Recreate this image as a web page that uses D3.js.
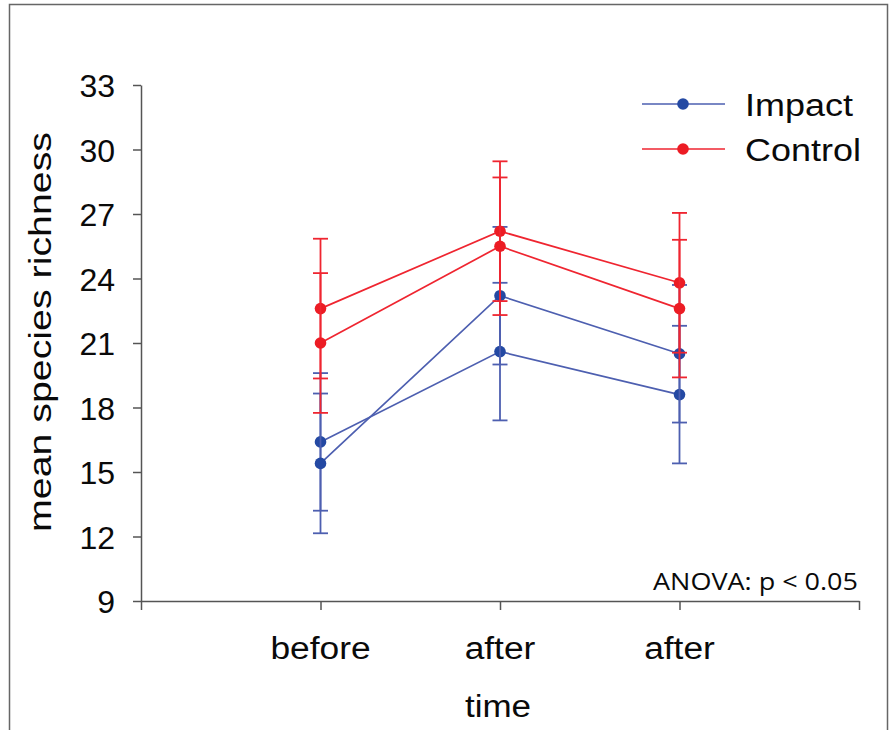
<!DOCTYPE html>
<html>
<head>
<meta charset="utf-8">
<script src="https://cdn.jsdelivr.net/npm/d3@7"></script>
<style>
  html, body { margin: 0; padding: 0; background: #fff; }
  svg { display: block; }
</style>
</head>
<body>
<svg id="chart" width="894" height="730"></svg>
<script>
// ---- data ----
const categories = ["before", "after", "after"];
const yTicks = [9, 12, 15, 18, 21, 24, 27, 30, 33];

const impactA = [16.4, 20.6, 18.6];
const impactAErr = [3.2, 3.2, 3.2];
const impactB = [15.4, 23.2, 20.5];
const impactBErr = [3.25, 3.2, 3.2];
const controlA = [22.6, 26.2, 23.8];
const controlAErr = [3.25, 3.25, 3.25];
const controlB = [21.0, 25.5, 22.6];
const controlBErr = [3.25, 3.2, 3.2];

const seriesNames = ["Impact", "Control"];

// ---- layout ----
const svg = d3.select("#chart");
const blueLine = "#4d5fb0", blueDot = "#2449a3";
const redLine = "#ef2530", redDot = "#ec1c24";
const font = "'Liberation Sans', Arial, sans-serif";
const ink = "#0a0a0a";

// frame
svg.append("rect").attr("x", 9.5).attr("y", 4.5).attr("width", 878).attr("height", 740)
  .attr("fill", "none").attr("stroke", "#666").attr("stroke-width", 1.5);

const x = d3.scaleLinear().domain([0, categories.length + 1]).range([141, 859]);
const y = d3.scaleLinear().domain([9, 33]).range([601, 85]);

// axes
const yAxis = d3.axisLeft(y).tickValues(yTicks).tickSize(8).tickSizeOuter(0).tickPadding(18);
const gy = svg.append("g").attr("transform", `translate(${x(0)},0)`).call(yAxis);
gy.select(".domain").attr("stroke", "#555").attr("stroke-width", 1.5);
gy.selectAll(".tick line").attr("stroke", "#555").attr("stroke-width", 1.5);
gy.selectAll(".tick text").attr("font-family", font).attr("font-size", 32).attr("fill", ink)
  .attr("dy", "0.36em");

const xAxis = d3.axisBottom(x).tickValues(d3.range(0, categories.length + 2))
  .tickSize(9).tickSizeOuter(0).tickFormat(() => "");
const gx = svg.append("g").attr("transform", `translate(0,${y(9)})`).call(xAxis);
gx.select(".domain").attr("stroke", "#555").attr("stroke-width", 1.5);
gx.selectAll(".tick line").attr("stroke", "#555").attr("stroke-width", 1.5);

// category labels
svg.append("g").selectAll("text").data(categories).join("text")
  .attr("x", (d, i) => x(i + 1)).attr("y", 659)
  .attr("text-anchor", "middle").attr("font-family", font).attr("font-size", 31)
  .attr("fill", ink)
  .attr("transform", (d, i) => `translate(${x(i + 1)},0) scale(1.14,1) translate(${-x(i + 1)},0)`)
  .text(d => d);

// axis titles
svg.append("text").attr("x", 498).attr("y", 717).attr("text-anchor", "middle")
  .attr("font-family", font).attr("font-size", 31).attr("fill", ink)
  .attr("transform", "translate(498,0) scale(1.13,1) translate(-498,0)")
  .text("time");
svg.append("text").attr("transform", "translate(51,332) rotate(-90)")
  .attr("text-anchor", "middle").attr("font-family", font).attr("font-size", 32)
  .attr("fill", ink).attr("textLength", 400).attr("lengthAdjust", "spacingAndGlyphs")
  .text("mean species richness");

// annotation
svg.append("text").attr("x", 858).attr("y", 590).attr("text-anchor", "end")
  .attr("font-family", "'Open Sans', 'Noto Sans', sans-serif").attr("font-size", 23)
  .attr("fill", ink).attr("textLength", 205).attr("lengthAdjust", "spacingAndGlyphs")
  .text("ANOVA: p < 0.05");

// series drawing
function drawSeries(values, errs, lineColor, dotColor) {
  const g = svg.append("g");
  const pts = values.map((v, i) => ({ xv: i + 1, v, e: errs[i] }));
  g.append("path").datum(pts)
    .attr("d", d3.line().x(d => x(d.xv)).y(d => y(d.v)))
    .attr("fill", "none").attr("stroke", lineColor).attr("stroke-width", 1.7);
  const eb = g.append("g").attr("stroke", lineColor).attr("stroke-width", 1.8);
  pts.forEach(d => {
    eb.append("line").attr("x1", x(d.xv)).attr("x2", x(d.xv))
      .attr("y1", y(d.v - d.e)).attr("y2", y(d.v + d.e));
    [d.v - d.e, d.v + d.e].forEach(c => {
      eb.append("line").attr("x1", x(d.xv) - 7.5).attr("x2", x(d.xv) + 7.5)
        .attr("y1", y(c)).attr("y2", y(c));
    });
  });
  g.selectAll("circle").data(pts).join("circle")
    .attr("cx", d => x(d.xv)).attr("cy", d => y(d.v)).attr("r", 5.8)
    .attr("fill", dotColor);
}

drawSeries(impactA, impactAErr, blueLine, blueDot);
drawSeries(impactB, impactBErr, blueLine, blueDot);
drawSeries(controlA, controlAErr, redLine, redDot);
drawSeries(controlB, controlBErr, redLine, redDot);

// legend
const legend = svg.append("g");
const legendItems = [
  { name: seriesNames[0], line: blueLine, dot: blueDot, yy: 104 },
  { name: seriesNames[1], line: redLine, dot: redDot, yy: 149 }
];
legendItems.forEach(it => {
  legend.append("line").attr("x1", 642).attr("x2", 725).attr("y1", it.yy).attr("y2", it.yy)
    .attr("stroke", it.line).attr("stroke-width", 1.6);
  legend.append("circle").attr("cx", 683).attr("cy", it.yy).attr("r", 5.8).attr("fill", it.dot);
  legend.append("text").attr("x", 745).attr("y", it.yy + 12)
    .attr("font-family", font).attr("font-size", 31).attr("fill", ink)
    .attr("transform", "translate(745,0) scale(1.16,1) translate(-745,0)")
    .text(it.name);
});
</script>
</body>
</html>
